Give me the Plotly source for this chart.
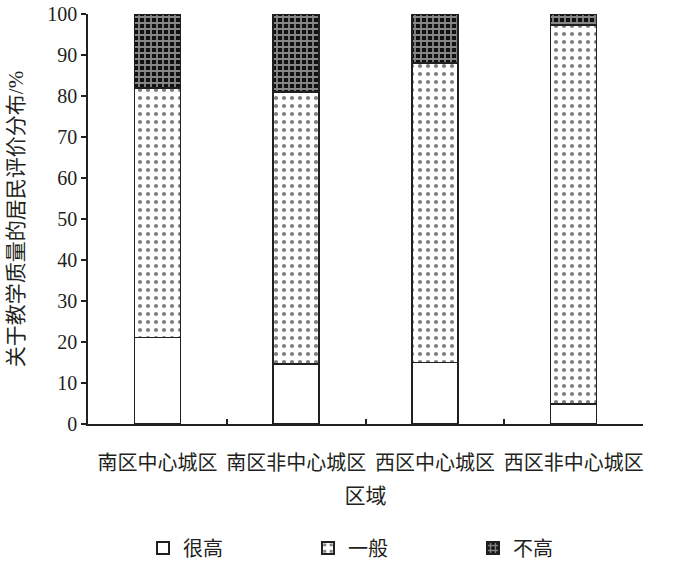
import plotly.graph_objects as go

categories = ["南区中心城区", "南区非中心城区", "西区中心城区", "西区非中心城区"]
very_high = [21.1, 14.6, 15.0, 4.9]
medium = [60.8, 66.4, 73.0, 92.4]
not_high = [18.1, 19.0, 12.0, 2.7]
y_ticks = [0, 10, 20, 30, 40, 50, 60, 70, 80, 90, 100]

FONT = "Liberation Serif, Noto Sans CJK SC, serif"

fig = go.Figure()
fig.add_trace(go.Bar(
    x=categories, y=very_high, name="很高",
    marker=dict(color="white", line=dict(color="#231f20", width=1.5)),
))
fig.add_trace(go.Bar(
    x=categories, y=medium, name="一般",
    marker=dict(color="white", line=dict(color="#231f20", width=1.5),
                pattern=dict(shape=".", fgcolor="#000000", bgcolor="white",
                             size=8, solidity=0.22)),
))
fig.add_trace(go.Bar(
    x=categories, y=not_high, name="不高",
    marker=dict(color="#111111", line=dict(color="#231f20", width=1.5),
                pattern=dict(shape="+", fgcolor="white", bgcolor="#111111",
                             size=6, solidity=0.5)),
))

fig.update_layout(
    barmode="stack",
    bargap=0.67,
    width=700, height=562,
    margin=dict(l=88, r=57, t=14, b=138, autoexpand=False),
    plot_bgcolor="white", paper_bgcolor="white",
    font=dict(family=FONT, size=18, color="#231f20"),
    showlegend=True,
    legend=dict(orientation="h", x=0.545, xanchor="center", y=-0.255, yanchor="top",
                font=dict(size=20), entrywidth=120, entrywidthmode="pixels",
                traceorder="normal", itemsizing="constant"),
    xaxis=dict(
        title=dict(text="区域", font=dict(size=21), standoff=16),
        automargin=False, tickangle=0, ticklabelstandoff=20,
        showline=True, linecolor="#231f20", linewidth=1.5,
        ticks="inside", ticklen=5, tickcolor="#231f20", tickwidth=1.5,
        tickson="boundaries", tickfont=dict(size=20),
        showgrid=False, mirror=False,
    ),
    yaxis=dict(
        title=dict(text="关于教学质量的居民评价分布/%", font=dict(size=21), standoff=18),
        automargin=False,
        range=[0, 100], tickvals=y_ticks,
        showline=True, linecolor="#231f20", linewidth=1.5,
        ticks="outside", ticklen=5, tickcolor="#231f20", tickwidth=1.5,
        tickfont=dict(size=20), showgrid=False, zeroline=False,
    ),
)

fig.write_html("out.html", config={"displayModeBar": False},
               post_script="document.body.style.margin='0';")
